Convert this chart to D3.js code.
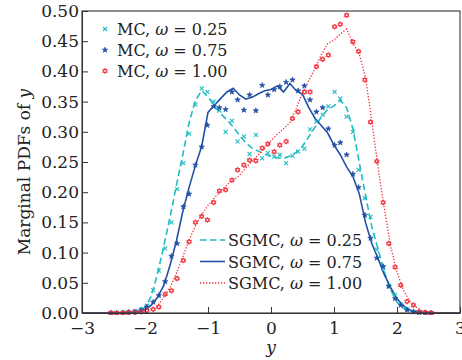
<!DOCTYPE html>
<html><head><meta charset="utf-8">
<script src="https://cdn.jsdelivr.net/npm/d3@7"></script>
<style>html,body{margin:0;padding:0;background:#fff;}svg{display:block;}</style>
</head><body><svg id="c" width="462" height="360"></svg>
<script>
// ---------- data ----------
const lineX = [-3.0,-2.9,-2.8,-2.7,-2.6,-2.5,-2.4,-2.3,-2.2,-2.1,
  -2.0,-1.9,-1.8,-1.7,-1.6,-1.5,-1.4,-1.3,-1.2,-1.1,
  -1.0,-0.9,-0.8,-0.7,-0.6,-0.5,-0.4,-0.3,-0.2,-0.1,
  0.0,0.1,0.2,0.3,0.4,0.5,0.6,0.7,0.8,0.9,
  1.0,1.1,1.2,1.3,1.4,1.5,1.6,1.7,1.8,1.9,
  2.0,2.1,2.2,2.3,2.4,2.5,2.6,2.7,2.8,2.9,3.0];
const sgmc025 = [0,0,0,0,0,0,0,0.001,0.002,0.004,
  0.009,0.028,0.065,0.112,0.160,0.212,0.262,0.315,0.352,0.368,
  0.358,0.343,0.330,0.320,0.308,0.294,0.282,0.273,0.268,0.263,
  0.259,0.257,0.256,0.260,0.266,0.276,0.292,0.308,0.325,0.337,
  0.343,0.352,0.340,0.305,0.250,0.195,0.143,0.105,0.068,0.038,
  0.018,0.008,0.003,0.001,0,0,0,0,0,0,0];
const sgmc075 = [0,0,0,0,0,0,0,0,0.001,0.002,
  0.005,0.013,0.026,0.046,0.080,0.120,0.168,0.208,0.244,0.276,
  0.332,0.344,0.355,0.366,0.372,0.361,0.354,0.357,0.363,0.368,
  0.370,0.376,0.366,0.380,0.368,0.362,0.340,0.322,0.310,0.298,
  0.278,0.262,0.242,0.226,0.198,0.150,0.115,0.090,0.063,0.042,
  0.024,0.012,0.005,0.002,0.001,0,0,0,0,0,0];
const sgmc100 = [0,0,0,0,0,0,0,0,0.001,0.002,
  0.004,0.006,0.012,0.027,0.043,0.066,0.093,0.121,0.144,0.163,
  0.178,0.190,0.202,0.212,0.220,0.228,0.240,0.252,0.262,0.273,
  0.285,0.296,0.305,0.315,0.338,0.365,0.385,0.405,0.428,0.446,
  0.452,0.462,0.470,0.447,0.429,0.390,0.318,0.240,0.172,0.110,
  0.068,0.038,0.020,0.010,0.004,0.002,0.001,0,0,0,0];

const mcX = [-2.54,-2.45,-2.35,-2.26,-2.16,-2.06,-1.97,-1.87,-1.78,-1.68,-1.58,-1.49,-1.39,-1.30,-1.20,-1.10,-1.01,-0.91,-0.82,-0.72,-0.62,-0.53,-0.43,-0.34,-0.24,-0.14,-0.05,
  0.05,0.14,0.24,0.34,0.43,0.53,0.62,0.72,0.82,0.91,1.01,1.10,1.20,1.30,1.39,1.49,1.58,1.68,1.78,1.87,1.97,2.06,2.16,2.26,2.35,2.45,2.54];
const mc025 = [0,0,0.001,0.002,0.003,0.006,0.012,0.038,0.070,0.107,0.150,0.205,0.248,0.297,0.345,0.372,0.366,0.350,0.335,0.300,0.318,0.284,0.292,0.263,0.295,0.256,0.265,
  0.259,0.262,0.248,0.260,0.267,0.272,0.304,0.317,0.328,0.342,0.366,0.355,0.325,0.300,0.237,0.190,0.159,0.105,0.074,0.045,0.030,0.014,0.006,0.002,0.001,0,0];
const mc075 = [0,0,0,0.001,0.002,0.005,0.010,0.018,0.029,0.052,0.094,0.115,0.176,0.197,0.245,0.275,0.311,0.342,0.340,0.337,0.366,0.353,0.336,0.361,0.335,0.377,0.361,
  0.370,0.375,0.382,0.386,0.368,0.376,0.353,0.333,0.340,0.305,0.278,0.282,0.262,0.230,0.208,0.162,0.124,0.091,0.077,0.044,0.024,0.013,0.005,0.002,0.001,0,0];
const mc100 = [0,0,0,0.001,0.001,0.002,0.004,0.006,0.010,0.031,0.037,0.057,0.087,0.118,0.150,0.160,0.154,0.183,0.202,0.204,0.220,0.237,0.245,0.253,0.252,0.273,0.280,
  0.267,0.278,0.284,0.322,0.333,0.366,0.366,0.408,0.420,0.427,0.474,0.478,0.493,0.449,0.433,0.386,0.316,0.251,0.183,0.115,0.076,0.046,0.019,0.013,0.002,0.001,0];

const xTicks = [-3,-2,-1,0,1,2,3];
const yTicks = [0,0.05,0.10,0.15,0.20,0.25,0.30,0.35,0.40,0.45,0.50];
const omegaLabels = ["0.25","0.75","1.00"];

// ---------- styles ----------
const C_CYAN = "#1fbcc4", C_BLUE = "#2150a6", C_RED = "#f0303a";
const FONT = "'DejaVu Serif', serif";

const svg = d3.select("#c");
const L = 82, R = 460, T = 11, B = 313;
const x = d3.scaleLinear().domain([-3,3]).range([L,R]);
const y = d3.scaleLinear().domain([0,0.5]).range([B,T]);

const plot = svg.append("g");
const clipId = "clipP";
svg.append("defs").append("clipPath").attr("id",clipId).append("rect")
  .attr("x",L).attr("y",T-2).attr("width",R-L).attr("height",B-T+4);

const pg = plot.append("g").attr("clip-path",`url(#${clipId})`);

const line = d3.line().x(d=>x(d[0])).y(d=>y(d[1]));
function pts(xs, ys){ return xs.map((v,i)=>[v, ys[i]]); }

// markers
function markX(g, col){ g.append("path").attr("d","M-2,-2L2,2M-2,2L2,-2").attr("stroke",col).attr("stroke-width",1.1).attr("fill","none"); }
function markStar(g, col){ g.append("path").attr("d", d3.symbol().type(d3.symbolStar).size(9)()).attr("fill",col).attr("stroke",col).attr("stroke-width",0.7); }
function markHex(g, col){
  const r=2.7; const a=[], b=[];
  for(let k=0;k<3;k++){ const t1=-Math.PI/2+k*2*Math.PI/3, t2=Math.PI/2+k*2*Math.PI/3;
    a.push([r*Math.cos(t1), r*Math.sin(t1)]); b.push([r*Math.cos(t2), r*Math.sin(t2)]); }
  const p = "M"+a.map(q=>q.join(",")).join("L")+"Z"+"M"+b.map(q=>q.join(",")).join("L")+"Z";
  g.append("path").attr("d",p).attr("stroke",col).attr("stroke-width",0.9).attr("fill","none");
}

// lines
pg.append("path").datum(pts(lineX,sgmc025)).attr("d",line).attr("fill","none")
  .attr("stroke",C_CYAN).attr("stroke-width",1.6).attr("stroke-dasharray","6.5,3.5");
pg.append("path").datum(pts(lineX,sgmc075)).attr("d",line).attr("fill","none")
  .attr("stroke",C_BLUE).attr("stroke-width",1.6);
pg.append("path").datum(pts(lineX,sgmc100)).attr("d",line).attr("fill","none")
  .attr("stroke",C_RED).attr("stroke-width",1.3).attr("stroke-dasharray","1.3,1.7");

// MC points
pts(mcX,mc025).forEach(d=>{ markX(pg.append("g").attr("transform",`translate(${x(d[0])},${y(d[1])})`), C_CYAN); });
pts(mcX,mc075).forEach(d=>{ markStar(pg.append("g").attr("transform",`translate(${x(d[0])},${y(d[1])})`), C_BLUE); });
pts(mcX,mc100).forEach(d=>{ markHex(pg.append("g").attr("transform",`translate(${x(d[0])},${y(d[1])})`), C_RED); });

// frame
svg.append("rect").attr("x",L).attr("y",T).attr("width",R-L).attr("height",B-T)
  .attr("fill","none").attr("stroke","#333").attr("stroke-width",1.1);

// axes (inward ticks)
const xAxis = d3.axisBottom(x).tickValues(xTicks).tickSizeInner(-6).tickSizeOuter(0)
  .tickPadding(12).tickFormat(d=> d<0 ? "\u2212"+Math.abs(d) : String(d));
const gx = svg.append("g").attr("transform",`translate(0,${B})`).call(xAxis);
const yAxis = d3.axisLeft(y).tickValues(yTicks).tickSizeInner(-6).tickSizeOuter(0)
  .tickPadding(9).tickFormat(d3.format(".2f"));
const gy = svg.append("g").attr("transform",`translate(${L},0)`).call(yAxis);
[gx,gy].forEach(g=>{
  g.select(".domain").attr("stroke","#333");
  g.selectAll(".tick line").attr("stroke","#333");
  g.selectAll("text").attr("font-family",FONT).attr("font-size",17).attr("fill","#222");
});
gx.selectAll("text").attr("dy","0.71em").attr("y",9);
gy.selectAll("text").attr("x",-3);

// axis labels
svg.append("text").attr("x",x(0)).attr("y",353).attr("text-anchor","middle")
  .attr("font-family",FONT).attr("font-size",17).attr("font-style","italic").attr("fill","#222").text("y");
const yl = svg.append("text").attr("transform","translate(30,172) rotate(-90)").attr("text-anchor","middle")
  .attr("font-family",FONT).attr("font-size",17).attr("fill","#222");
yl.append("tspan").text("Marginal PDFs of ");
yl.append("tspan").attr("font-style","italic").text("y");

// legend 1 (MC)
const leg1 = svg.append("g");
const mcCols = [C_CYAN, C_BLUE, C_RED];
const mcMarks = [markX, markStar, markHex];
omegaLabels.forEach((lab,i)=>{
  const cy = 29 + i*21;
  mcMarks[i](leg1.append("g").attr("transform",`translate(105,${cy})`), mcCols[i]);
  const t = leg1.append("text").attr("x",117).attr("y",cy+6).attr("font-family",FONT)
    .attr("font-size",16).attr("fill","#222");
  t.append("tspan").text("MC, ");
  t.append("tspan").attr("font-style","italic").text("\u03C9");
  t.append("tspan").text(" = "+lab);
});

// legend 2 (SGMC)
const leg2 = svg.append("g");
const lineStyles = [
  {c:C_CYAN, w:1.6, d:"6.5,3.5"},
  {c:C_BLUE, w:1.6, d:null},
  {c:C_RED, w:1.3, d:"1.3,1.7"}];
omegaLabels.forEach((lab,i)=>{
  const cy = 240 + i*21.5;
  const s = lineStyles[i];
  const ln = leg2.append("line").attr("x1",200).attr("x2",225).attr("y1",cy).attr("y2",cy)
    .attr("stroke",s.c).attr("stroke-width",s.w);
  if(s.d) ln.attr("stroke-dasharray",s.d);
  const t = leg2.append("text").attr("x",228).attr("y",cy+6).attr("font-family",FONT)
    .attr("font-size",16).attr("fill","#222");
  t.append("tspan").text("SGMC, ");
  t.append("tspan").attr("font-style","italic").text("\u03C9");
  t.append("tspan").text(" = "+lab);
});
</script></body></html>
